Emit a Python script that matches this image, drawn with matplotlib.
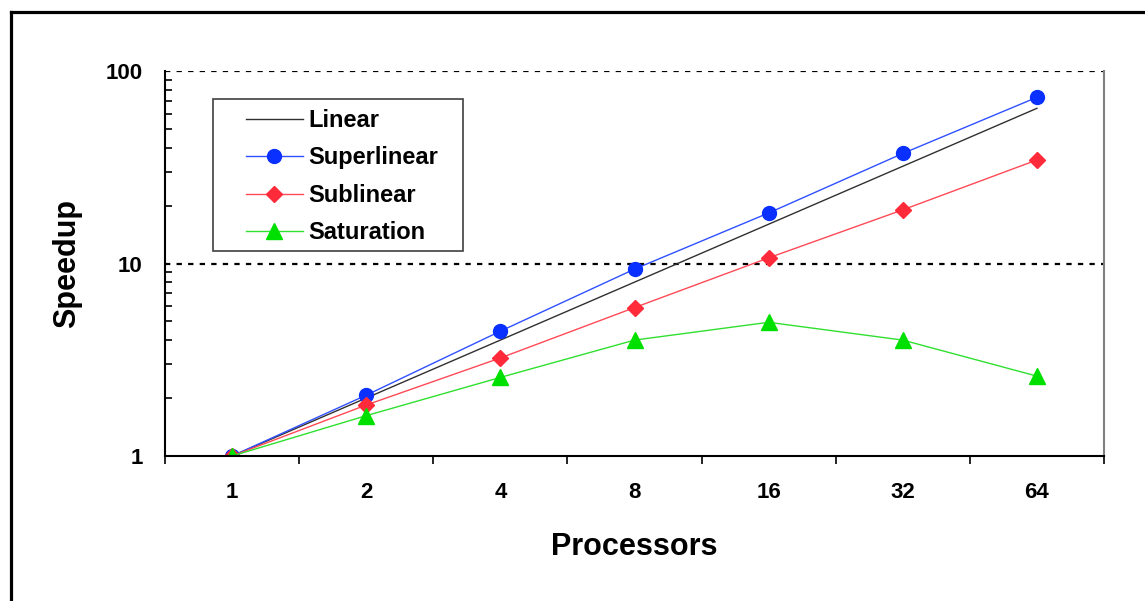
import matplotlib.pyplot as plt
from matplotlib.lines import Line2D
from matplotlib.patches import Rectangle
from matplotlib.ticker import FixedLocator, NullFormatter
import numpy as np

plt.rcParams['font.family'] = ['Liberation Sans', 'DejaVu Sans']
plt.rcParams['font.weight'] = 'bold'

# data
processors = ['1', '2', '4', '8', '16', '32', '64']
linear = [1, 2, 4, 8, 16, 32, 64]
superlinear = [1, 2.07, 4.45, 9.35, 18.3, 37.3, 73]
sublinear = [1, 1.84, 3.23, 5.9, 10.7, 19.0, 34.5]
saturation = [1, 1.62, 2.56, 4.0, 4.95, 4.0, 2.6]

x = np.arange(len(processors))

fig = plt.figure(figsize=(11.45, 6.01), dpi=100)
ax = fig.add_axes([165/1145, 1-456/601, 939/1145, 385/601])

ax.plot(x, linear, color='#303030', lw=1.0, label='Linear')
ax.plot(x, superlinear, color='#3050ff', lw=1.0, marker='o', ms=10,
        mec='#0a30ff', mfc='#0a30ff', label='Superlinear')
ax.plot(x, sublinear, color='#ff4a55', lw=1.0, marker='D', ms=8,
        mec='#ff2a3a', mfc='#ff2a3a', label='Sublinear')
ax.plot(x, saturation, color='#30e030', lw=1.0, marker='^', ms=11.5,
        mec='#00e000', mfc='#00e000', label='Saturation')

ax.set_yscale('log')
ax.set_ylim(1, 100)
ax.set_xlim(-0.5, len(processors) - 0.5)

# y axis: labels only on decades, minor ticks inside
ax.yaxis.set_major_locator(FixedLocator([1, 10, 100]))
ax.set_yticklabels(['1', '10', '100'])
ax.yaxis.set_minor_formatter(NullFormatter())
ax.tick_params(axis='y', which='major', length=0, pad=16, labelsize=16)
ax.tick_params(axis='y', which='minor', direction='in', length=5, width=1.2)
for yv in (10, 100):
    ax.axhline(yv, color='black', lw=1.6, ls=(0, (2.4, 2.8)), zorder=1)

# x axis: category labels, ticks at boundaries
ax.set_xticks(x)
ax.set_xticklabels(processors)
ax.set_xticks(np.arange(-0.5, len(processors)), minor=True)
ax.tick_params(axis='x', which='major', length=0, pad=19, labelsize=16)
ax.tick_params(axis='x', which='minor', direction='out', length=6, width=1.2)

ax.spines['top'].set_visible(False)
ax.spines['right'].set_color('#808080')
for s in ('left', 'bottom', 'right'):
    ax.spines[s].set_linewidth(1.5)

ax.set_ylabel('Speedup', fontsize=22, fontweight='bold')
ax.yaxis.set_label_coords(-(165-82)/939, 0.5)
ax.set_xlabel('Processors', fontsize=22, fontweight='bold')
ax.xaxis.set_label_coords(0.5, -(532-456)/385)

# legend with its own frame
ax.add_patch(Rectangle(((213-165)/939, (456-251)/385), 250/939, 152/385,
                       transform=ax.transAxes, fill=False, ec='#404040',
                       lw=1.2, zorder=3))
ax.legend(loc='upper left', bbox_to_anchor=((246-165)/939, (456-109)/385),
          frameon=False, borderpad=0, handlelength=2.4, handletextpad=0.25,
          labelspacing=0.61, fontsize=17, borderaxespad=0)

# outer frame (top and left edges)
fig.add_artist(Line2D([11/1145, 11/1145], [0, 1-12/601], color='black',
                      lw=2.3, transform=fig.transFigure))
fig.add_artist(Line2D([11/1145, 1], [1-12/601, 1-12/601], color='black',
                      lw=2.3, transform=fig.transFigure))

fig.savefig('out.png', dpi=100)
